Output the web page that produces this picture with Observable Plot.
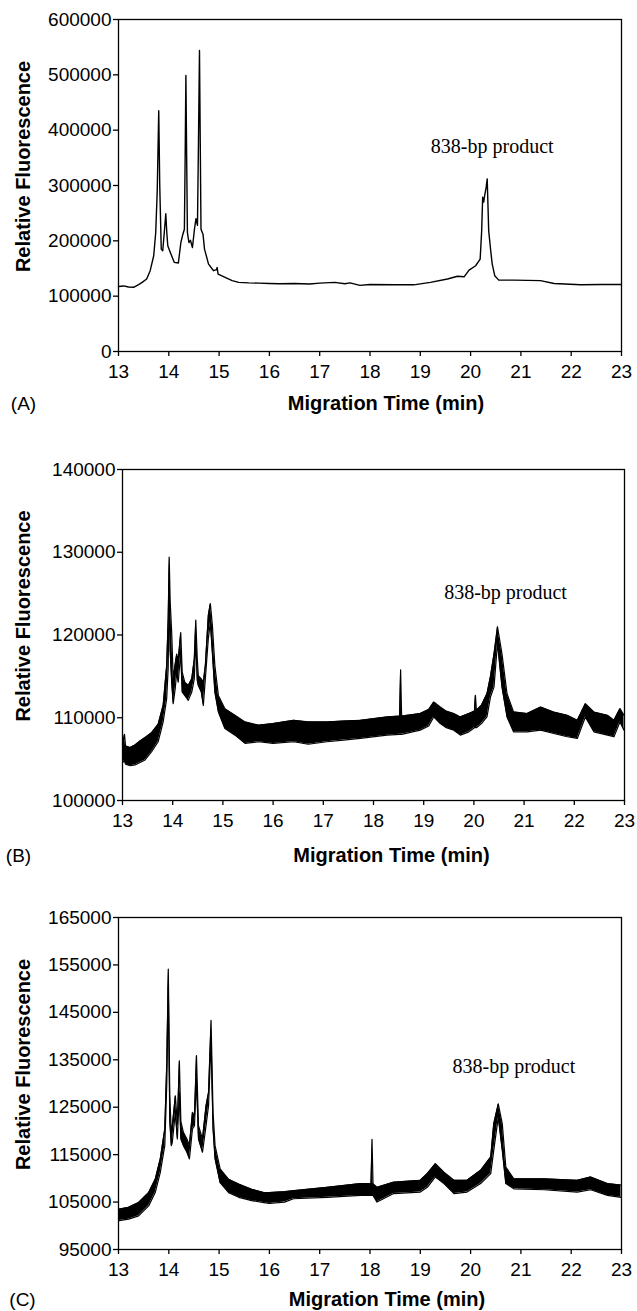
<!DOCTYPE html>
<html>
<head>
<meta charset="utf-8">
<script src="https://cdn.jsdelivr.net/npm/d3@7"></script>
<script src="https://cdn.jsdelivr.net/npm/@observablehq/plot@0.6"></script>
<style>
  html, body { margin: 0; padding: 0; background: #fff; }
  #chart { width: 637px; height: 1311px; overflow: hidden; }
  #chart svg { display: block; overflow: visible; }
</style>
</head>
<body>
<div id="chart"></div>
<script>
// ---------- shared ----------
const xTicks = [13, 14, 15, 16, 17, 18, 19, 20, 21, 22, 23];
const xLabel = "Migration Time (min)";
const yLabel = "Relative Fluorescence";
const peakLabel = "838-bp product";
const panelLabels = ["(A)", "(B)", "(C)"];

// ---------- panel A (single trace) ----------
const yTicksA = [0, 100000, 200000, 300000, 400000, 500000, 600000];
const timeA = [13.00, 13.10, 13.20, 13.30, 13.40, 13.47, 13.56, 13.63, 13.70, 13.74, 13.77, 13.80, 13.82, 13.85, 13.88, 13.91, 13.94, 13.96, 13.98, 14.03,
  14.11, 14.19, 14.24, 14.28, 14.31, 14.325, 14.34, 14.355, 14.37, 14.40, 14.43, 14.47, 14.51, 14.54, 14.57, 14.59, 14.61, 14.625, 14.64, 14.68,
  14.71, 14.79, 14.89, 14.95, 14.96, 14.98, 15.12, 15.26, 15.39, 15.59, 15.79, 16.00, 16.20, 16.50, 16.80, 17.00, 17.30, 17.50, 17.60, 17.80,
  18.00, 18.50, 18.87, 19.20, 19.54, 19.74, 19.87, 19.97, 20.10, 20.19, 20.22, 20.24, 20.26, 20.28, 20.31, 20.33, 20.36, 20.40, 20.43, 20.48,
  20.56, 20.86, 21.39, 21.66, 22.19, 22.60, 23.00];
const fluorA = [117500, 118500, 116500, 116000, 121000, 124900, 131000, 146000, 173000, 215000, 290000, 435000, 300000, 185000, 182000, 215000, 249000, 215000, 191000, 179000,
  161000, 160000, 197000, 212000, 221000, 350000, 499000, 350000, 215000, 197000, 201000, 188000, 221000, 240000, 228000, 380000, 544000, 380000, 221000, 212000,
  185000, 158000, 146000, 148000, 152000, 140000, 134000, 128000, 125000, 124000, 123500, 123000, 122500, 123000, 122000, 123500, 125000, 122500, 124000, 119500,
  121000, 120500, 120500, 125000, 131000, 136000, 135000, 147000, 155000, 167000, 218000, 279000, 270000, 282000, 297000, 312000, 218000, 182000, 158000, 137000,
  129000, 129000, 128000, 123000, 120700, 121000, 121000];

// ---------- panel B (noisy trace: lower / upper envelope) ----------
const yTicksB = [100000, 110000, 120000, 130000, 140000];
const timeB = [13.00, 13.04, 13.06, 13.15, 13.25, 13.35, 13.45, 13.58, 13.71, 13.81, 13.88, 13.91, 13.93, 13.95, 13.98, 14.01, 14.05, 14.08, 14.11, 14.16,
  14.19, 14.24, 14.31, 14.38, 14.43, 14.46, 14.49, 14.51, 14.57, 14.61, 14.65, 14.71, 14.75, 14.79, 14.84, 14.91, 15.04, 15.24, 15.44, 15.71,
  16.00, 16.41, 16.70, 17.07, 17.40, 17.74, 18.27, 18.52, 18.54, 18.56, 18.93, 19.10, 19.20, 19.33, 19.45, 19.60, 19.73, 19.90, 20.01, 20.03,
  20.05, 20.15, 20.26, 20.33, 20.40, 20.47, 20.56, 20.66, 20.79, 21.06, 21.33, 21.59, 21.86, 22.06, 22.22, 22.39, 22.66, 22.79, 22.91, 22.99];
const lowB = [104600, 104800, 104400, 104200, 104300, 104600, 104900, 105900, 107100, 109500, 112300, 116000, 126000, 118000, 114300, 111700, 113500, 115500, 114300, 117900,
  113100, 112700, 112100, 113100, 114700, 119500, 114500, 113900, 113100, 111500, 114700, 119600, 121500, 117900, 113100, 110700, 108700, 107900, 106900, 107100,
  106900, 107100, 106800, 107100, 107300, 107500, 107900, 108000, 108000, 108000, 108500, 109000, 110100, 109300, 108800, 108500, 107900, 108300, 108800, 108800,
  108800, 109300, 110100, 112500, 113700, 119000, 113700, 110100, 108300, 108300, 108500, 108100, 107700, 107500, 110100, 108300, 107900, 107700, 109500, 108500];
const highB = [106800, 108000, 106600, 106400, 106700, 107200, 107600, 108200, 109200, 111500, 116300, 122000, 129400, 124000, 120300, 114700, 116500, 117700, 117000, 120300,
  115500, 114300, 113900, 114700, 117100, 121800, 117000, 115100, 114700, 114300, 116300, 122400, 123800, 121200, 116300, 112700, 111100, 110300, 109500, 109100,
  109300, 109700, 109500, 109500, 109600, 109700, 110100, 110200, 115800, 110200, 110500, 111000, 111900, 111300, 110800, 110500, 110100, 110500, 110800, 112700,
  110900, 111500, 112900, 115000, 117700, 121000, 117700, 112900, 110700, 110500, 111300, 110700, 110300, 109700, 111700, 110700, 110300, 109700, 111100, 110300];

// ---------- panel C (noisy trace: lower / upper envelope) ----------
const yTicksC = [95000, 105000, 115000, 125000, 135000, 145000, 155000, 165000];
const timeC = [13.01, 13.20, 13.40, 13.60, 13.73, 13.83, 13.92, 13.96, 13.99, 14.02, 14.05, 14.07, 14.13, 14.17, 14.21, 14.24, 14.29, 14.36, 14.41, 14.47,
  14.51, 14.55, 14.59, 14.67, 14.74, 14.79, 14.84, 14.88, 14.92, 15.02, 15.19, 15.39, 15.65, 15.89, 16.00, 16.30, 16.48, 17.15, 17.81, 18.02,
  18.04, 18.06, 18.14, 18.47, 19.00, 19.14, 19.30, 19.47, 19.67, 19.93, 20.20, 20.40, 20.46, 20.55, 20.63, 20.70, 20.86, 21.46, 22.12, 22.39,
  22.72, 22.99];
const lowC = [101100, 101400, 102100, 104200, 107000, 111200, 116900, 130000, 150500, 122000, 116900, 117600, 123900, 118300, 128000, 118300, 116900, 115500, 114100, 120400,
  121100, 131000, 118300, 115500, 121100, 125300, 139000, 120400, 114100, 109100, 107000, 106000, 105300, 104900, 104700, 105000, 105700, 106000, 106400, 106400,
  106400, 106400, 105000, 106800, 107100, 108100, 110300, 108900, 106800, 107100, 108900, 111000, 115900, 122900, 115900, 108900, 107800, 107600, 107100, 107600,
  106400, 106000];
const highC = [103500, 103900, 104900, 107000, 109800, 114100, 120400, 134500, 154100, 127400, 119500, 121100, 127400, 121500, 134800, 122000, 119700, 118300, 117000, 123900,
  123200, 135900, 121100, 118300, 125300, 128100, 143300, 123900, 116900, 112000, 109800, 108800, 107700, 107000, 107000, 107200, 107400, 108100, 108900, 108900,
  118200, 108900, 108100, 109200, 109600, 111000, 113100, 111300, 109600, 109600, 111700, 114500, 121500, 125700, 121500, 112400, 109900, 109900, 109600, 110300,
  108900, 108600];

// ---------- tables built from the arrays ----------
const rowsA = timeA.map((t, i) => ({t, v: fluorA[i]}));
const rowsB = timeB.map((t, i) => ({t, lo: lowB[i], hi: highB[i]}));
const rowsC = timeC.map((t, i) => ({t, lo: lowC[i], hi: highC[i]}));

const sans = "'Liberation Sans', Arial, Helvetica, sans-serif";
const serif = "'Liberation Serif', 'Times New Roman', serif";

function panel(cfg) {
  return Plot.plot({
    width: 637,
    height: cfg.height,
    marginTop: cfg.mt, marginBottom: cfg.mb, marginLeft: cfg.ml, marginRight: cfg.mr,
    style: {fontFamily: sans, color: "black", background: "white", overflow: "visible"},
    x: {domain: [13, 23]},
    y: {domain: cfg.yDomain},
    marks: [
      ...cfg.data,
      Plot.frame({stroke: "black", strokeWidth: 1.3}),
      Plot.axisX({ticks: xTicks, tickFormat: d => String(d), tickSize: 5, tickPadding: 8, fontSize: 19, label: null, strokeWidth: 1.3}),
      Plot.axisY({ticks: cfg.yTicks, tickFormat: d => String(d), tickSize: 5, tickPadding: 2, fontSize: 19, label: null, strokeWidth: 1.3}),
      Plot.text([xLabel], {frameAnchor: "bottom", dx: cfg.xlDx, dy: cfg.xlDy, fontSize: 20, fontWeight: "bold", textAnchor: "middle", lineAnchor: "middle"}),
      Plot.text([yLabel], {frameAnchor: "left", rotate: -90, dx: cfg.ylDx, dy: -19, fontSize: 20, fontWeight: "bold", textAnchor: "middle", lineAnchor: "middle"}),
      Plot.text([cfg.tag], {frameAnchor: "bottom-left", dx: cfg.tagDx, dy: cfg.xlDy, fontSize: 19, textAnchor: "middle", lineAnchor: "middle"}),
      Plot.text([peakLabel], {x: cfg.annX, y: cfg.annY, fontFamily: serif, fontSize: 20, textAnchor: "middle", lineAnchor: "middle"})
    ]
  });
}

const chart = document.getElementById("chart");

chart.appendChild(panel({
  height: 440, mt: 19, mb: 89, ml: 118, mr: 16,
  yDomain: [0, 600000], yTicks: yTicksA,
  data: [Plot.line(rowsA, {x: "t", y: "v", stroke: "black", strokeWidth: 1.4})],
  xlDx: 16, xlDy: 52, ylDx: -95, tag: panelLabels[0], tagDx: -95,
  annX: 20.43, annY: 370600
}));

chart.appendChild(panel({
  height: 440, mt: 29, mb: 80, ml: 122, mr: 13,
  yDomain: [100000, 140000], yTicks: yTicksB,
  data: [
    Plot.areaY(rowsB, {x: "t", y1: "lo", y2: "hi", fill: "black"}),
    Plot.line(rowsB, {x: "t", y: "hi", stroke: "black", strokeWidth: 1.2}),
    Plot.line(rowsB, {x: "t", y: "lo", stroke: "black", strokeWidth: 1.2})
  ],
  xlDx: 18, xlDy: 55, ylDx: -99, tag: panelLabels[1], tagDx: -104,
  annX: 20.63, annY: 125100
}));

chart.appendChild(panel({
  height: 431, mt: 37, mb: 62, ml: 118, mr: 16,
  yDomain: [95000, 165000], yTicks: yTicksC,
  data: [
    Plot.areaY(rowsC, {x: "t", y1: "lo", y2: "hi", fill: "black"}),
    Plot.line(rowsC, {x: "t", y: "hi", stroke: "black", strokeWidth: 1.2}),
    Plot.line(rowsC, {x: "t", y: "lo", stroke: "black", strokeWidth: 1.2})
  ],
  xlDx: 17, xlDy: 50, ylDx: -95, tag: panelLabels[2], tagDx: -96,
  annX: 20.86, annY: 133600
}));
</script>
</body>
</html>
